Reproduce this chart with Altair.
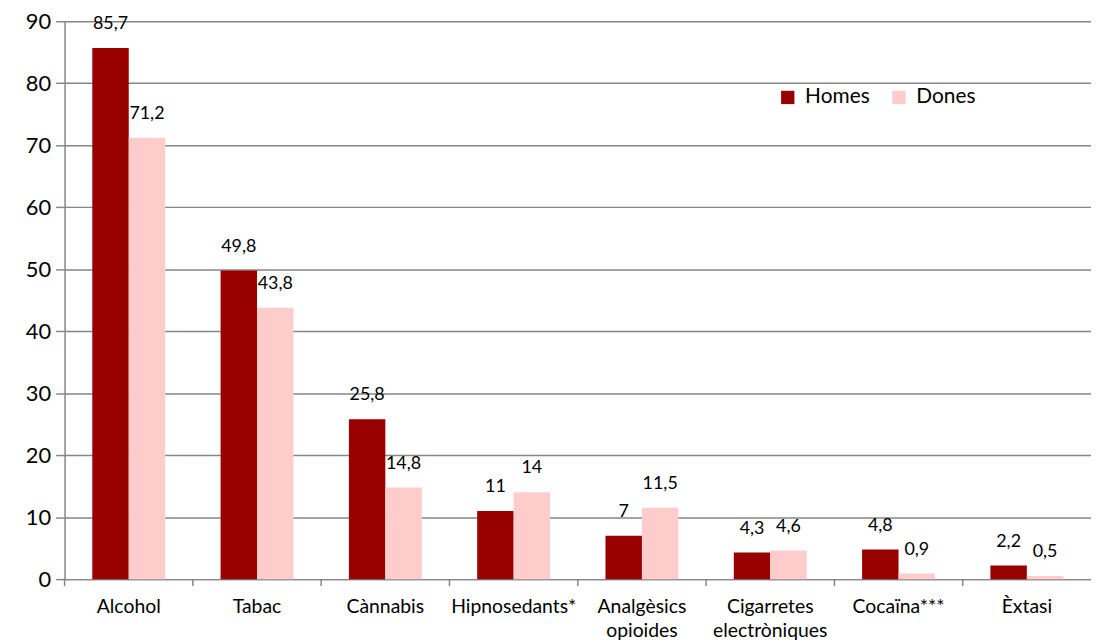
import altair as alt
import pandas as pd

categories = ["Alcohol", "Tabac", "Cànnabis", "Hipnosedants*", "Analgèsics opioides",
              "Cigarretes electròniques", "Cocaïna***", "Èxtasi"]
homes = [85.7, 49.8, 25.8, 11, 7, 4.3, 4.8, 2.2]
dones = [71.2, 43.8, 14.8, 14, 11.5, 4.6, 0.9, 0.5]
series = ["Homes", "Dones"]
colors = ["#990000", "#FFCCCC"]

rows = []
for c, h, d in zip(categories, homes, dones):
    rows.append({"cat": c, "serie": "Homes", "v": h})
    rows.append({"cat": c, "serie": "Dones", "v": d})
df = pd.DataFrame(rows)
cats_df = pd.DataFrame({"cat": categories})

FONT = "Lato"

x_enc = alt.X("cat:N", sort=categories, title=None,
              scale=alt.Scale(paddingInner=0, paddingOuter=0),
              axis=alt.Axis(labelAngle=0, ticks=False, domainColor="#868686", domainWidth=1.5,
                            labelFontSize=19.5, labelColor="#000000", labelFont=FONT,
                            labelPadding=19, labelLineHeight=24,
                            labelExpr="split(datum.value, ' ')"))
y_enc = alt.Y("v:Q", title=None,
              scale=alt.Scale(domain=[0, 90], nice=False),
              axis=alt.Axis(values=list(range(0, 91, 10)), tickSize=9, tickColor="#868686", tickWidth=1.5,
                            domainColor="#868686", domainWidth=1.5, gridColor="#868686", gridWidth=1.5,
                            labelFontSize=22, labelColor="#000000", labelFont=FONT, labelPadding=5))
xo = alt.XOffset("serie:N", sort=series, scale=alt.Scale(paddingOuter=0.76, paddingInner=0))
color_enc = alt.Color("serie:N", sort=series,
                      scale=alt.Scale(domain=series, range=colors),
                      legend=alt.Legend(title=None, orient="none", legendX=718, legendY=66,
                                        direction="horizontal", symbolType="square", symbolSize=180,
                                        symbolStrokeWidth=0, symbolOpacity=1,
                                        labelFontSize=21, labelFont=FONT, labelColor="#000000",
                                        columnPadding=18, labelOffset=7))

bars = alt.Chart(df).mark_bar(opacity=1).encode(x=x_enc, y=y_enc, xOffset=xo, color=color_enc)

texts = alt.Chart(df).transform_calculate(
    lab="replace(toString(datum.v), '.', ',')"
).mark_text(baseline="bottom", dy=-15, fontSize=18, font=FONT, color="#000000").encode(
    x=alt.X("cat:N", sort=categories), y="v:Q", xOffset=alt.XOffset("serie:N", sort=series), text="lab:N")

ticks = alt.Chart(cats_df).mark_rule(color="#868686", strokeWidth=1.5).encode(
    x=alt.X("cat:N", sort=categories, bandPosition=0),
    y=alt.value(562), y2=alt.value(569))

chart = alt.layer(bars, texts, ticks).properties(
    width=1034, height=562,
    autosize=alt.AutoSizeParams(type="none"),
    padding={"left": 57, "top": 11, "right": 0, "bottom": 63},
).configure_view(stroke=None).configure_axis(grid=False).configure_axisY(grid=True)

chart.save("out.html", embed_options={"renderer": "svg", "actions": False})
